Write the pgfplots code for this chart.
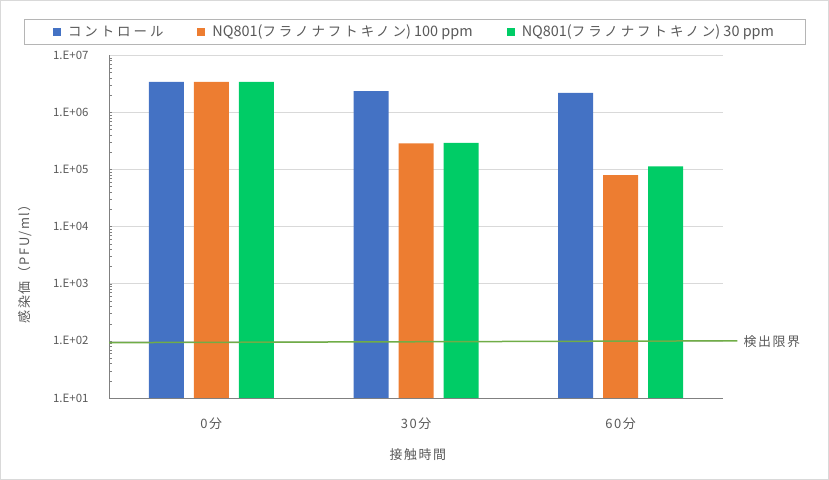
\documentclass[border=0pt]{standalone}
\usepackage{pgfplots}
\pgfplotsset{compat=1.18}
\usepackage{fontspec}
\setmainfont{Noto Sans CJK JP}
\newfontfamily\spfont{Noto Sans CJK JP}[LetterSpace=12]
\newfontfamily\kfont{Noto Sans CJK JP}[LetterSpace=22]
\newcommand{\kana}[1]{{\kfont\fontsize{13.5}{15}\selectfont #1}}
\definecolor{cblue}{HTML}{4472C4}
\definecolor{corange}{HTML}{ED7D31}
\definecolor{cgreen}{HTML}{00CC66}
\definecolor{limit}{HTML}{70AD47}
\definecolor{txt}{HTML}{595959}
\definecolor{gridc}{HTML}{D9D9D9}
\begin{document}
\begin{tikzpicture}[x=1bp,y=1bp]
\path[use as bounding box] (0,0) rectangle (829,480);
\draw[gridc] (0.5,0.5) rectangle (828.5,479.5);
\begin{axis}[
    at={(109bp,82bp)}, anchor=south west,
    scale only axis, width=614bp, height=343bp,
    ybar=10bp, bar width=35bp,
    ymode=log, log origin=infty,
    ymin=10, ymax=1e7,
    xmin=-0.5, xmax=2.5,
    xtick={0,1,2},
    xticklabels={0分,30分,60分},
    ytick={1e1,1e2,1e3,1e4,1e5,1e6,1e7},
    yticklabels={1.E+01,1.E+02,1.E+03,1.E+04,1.E+05,1.E+06,1.E+07},
    axis x line*=bottom, axis y line*=left,
    axis line style={draw=gray, -},
    major tick length=0pt,
    ymajorgrids, grid style={gridc},
    clip=false,
    font=\fontsize{11.5}{13}\selectfont,
    tick label style={txt},
    xticklabel style={yshift=-16bp, font=\spfont\fontsize{13}{15}\selectfont},
    yticklabel style={xshift=-17bp},
    xlabel={接触時間},
    ylabel={感染価（PFU/ml）},
    label style={txt, font=\spfont\fontsize{13}{15}\selectfont},
    xlabel style={at={(axis description cs:0.503,-0.166)}, anchor=center},
    ylabel style={at={(axis description cs:-0.137,0.40)}, anchor=center},
    legend columns=3,
    legend style={at={(axis description cs:0.4976,1.105)}, anchor=north,
        draw=gridc!60!gray, text=txt, inner xsep=29bp, inner ysep=4bp,
        /tikz/every even column/.append style={column sep=32bp},
        font=\fontsize{14.5}{15}\selectfont},
    legend image code/.code={\fill[#1] (0bp,-4bp) rectangle (8bp,4bp); \path (13bp,0bp);},
]
\addplot[fill=cblue, draw=none] coordinates {(0,3.4e6) (1,2.33e6) (2,2.18e6)};
\addplot[fill=corange, draw=none] coordinates {(0,3.4e6) (1,2.83e5) (2,7.9e4)};
\addplot[fill=cgreen, draw=none] coordinates {(0,3.4e6) (1,2.89e5) (2,1.13e5)};
\addplot[sharp plot, limit, line width=1.5bp, forget plot] coordinates {(-0.5,93) (2.57,100)};
\node[anchor=west, inner sep=0pt, txt, font=\spfont\fontsize{13}{15}\selectfont] at (axis cs:2.6,96) {検出限界};
\legend{\kana{コントロール}, NQ801(\kana{フラノナフトキノン}) 100 ppm, NQ801(\kana{フラノナフトキノン}) 30 ppm}
\end{axis}
\end{tikzpicture}
\end{document}
